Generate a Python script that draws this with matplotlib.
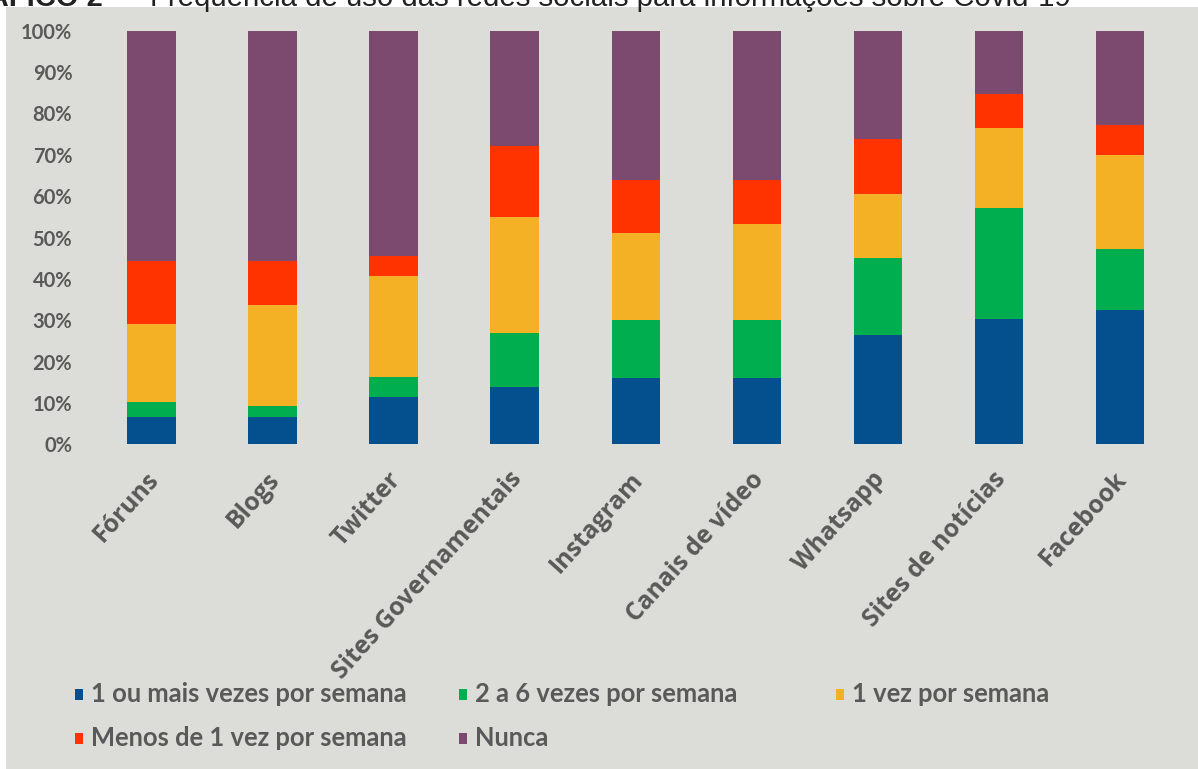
import matplotlib
matplotlib.use("Agg")
import matplotlib.pyplot as plt
from matplotlib.patches import Rectangle
from matplotlib.transforms import ScaledTranslation
import numpy as np

# Redes sociais (eixo x)
categorias = ["Fóruns", "Blogs", "Twitter", "Sites Governamentais", "Instagram",
              "Canais de vídeo", "Whatsapp", "Sites de notícias", "Facebook"]

# Percentual de respondentes por frequência de uso
uma_ou_mais = [6.7, 6.7, 11.4, 13.9, 16.0, 16.0, 26.4, 30.4, 32.5]
duas_a_seis = [3.6, 2.6, 4.8, 12.9, 14.1, 14.1, 18.6, 26.7, 14.6]
uma_vez = [18.7, 24.3, 24.5, 28.2, 20.9, 23.2, 15.4, 19.3, 22.8]
menos_de_uma = [15.4, 10.8, 4.8, 17.1, 12.9, 10.6, 13.3, 8.3, 7.2]
nunca = [55.6, 55.6, 54.5, 27.9, 36.1, 36.1, 26.3, 15.3, 22.9]

series = ["1 ou mais vezes por semana", "2 a 6 vezes por semana", "1 vez por semana",
          "Menos de 1 vez por semana", "Nunca"]
valores = [uma_ou_mais, duas_a_seis, uma_vez, menos_de_uma, nunca]
cores = ["#04508E", "#00AD4F", "#F5B125", "#FF3300", "#7C4A6E"]

y_ticks = [0, 10, 20, 30, 40, 50, 60, 70, 80, 90, 100]
y_labels = [f"{v}%" for v in y_ticks]

titulo_num = "GRÁFICO 2 –"
titulo = "Frequência de uso das redes sociais para informações sobre Covid-19"

W, H = 1198, 769
fig = plt.figure(figsize=(W / 100, H / 100), dpi=100, facecolor="white")

def fx(px):
    return px / W

def fy(py):
    return 1 - py / H

# painel cinza de fundo
fig.patches.append(Rectangle((fx(6), 0), 1 - fx(6), fy(7), transform=fig.transFigure,
                             facecolor="#DCDCD8", edgecolor="none", zorder=-2))

# título (parcialmente cortado na borda superior)
fig.text(fx(127), fy(6), titulo_num, ha="right", va="baseline", fontsize=21,
         family="Liberation Sans", fontweight="bold", color="#222222", zorder=-1)
fig.text(fx(150), fy(6), titulo, ha="left", va="baseline", fontsize=21.2,
         family="Liberation Sans", color="#222222", zorder=-1)

ax_left, ax_right = 91, 1180.5
ax_top, ax_bottom = 30.7, 444.3
ax = fig.add_axes([fx(ax_left), fy(ax_bottom), fx(ax_right - ax_left),
                   (ax_bottom - ax_top) / H])
ax.set_facecolor("none")

x = np.arange(len(categorias))
base = np.zeros(len(categorias))
for nome, vals, cor in zip(series, valores, cores):
    vals = np.array(vals)
    ax.bar(x, vals, 0.4, bottom=base, color=cor, label=nome, linewidth=0)
    base = base + vals

ax.set_xlim(-0.5, len(categorias) - 0.5)
ax.set_ylim(0, 100)
ax.set_yticks(y_ticks)
ax.set_yticklabels(y_labels, fontsize=14.5, fontweight="bold", family="Lato",
                   color="#595959")
ax.tick_params(axis="y", length=0, pad=13.5)
ax.set_xticks(x)
ax.set_xticklabels(categorias, rotation=48, ha="right", va="center",
                   rotation_mode="anchor", fontsize=17.8, fontweight="bold",
                   family="Open Sans", color="#595959")
ax.tick_params(axis="x", length=0, pad=0)
offset = ScaledTranslation(3 / 100, -31 / 100, fig.dpi_scale_trans)
for lbl in ax.get_xticklabels():
    lbl.set_transform(lbl.get_transform() + offset)
for s in ax.spines.values():
    s.set_visible(False)

# legenda
posicoes = [(75, 694), (459, 694), (836, 694), (75, 738), (459, 738)]
for (px, py), nome, cor in zip(posicoes, series, cores):
    fig.patches.append(Rectangle((fx(px), fy(py + 6)), fx(8), 11 / H,
                                 transform=fig.transFigure, facecolor=cor,
                                 edgecolor="none"))
    fig.text(fx(px + 16), fy(py), nome, ha="left", va="center", fontsize=18.4,
             fontweight="bold", family="Lato", color="#595959")

fig.savefig("out.png", dpi=100, facecolor="white")
